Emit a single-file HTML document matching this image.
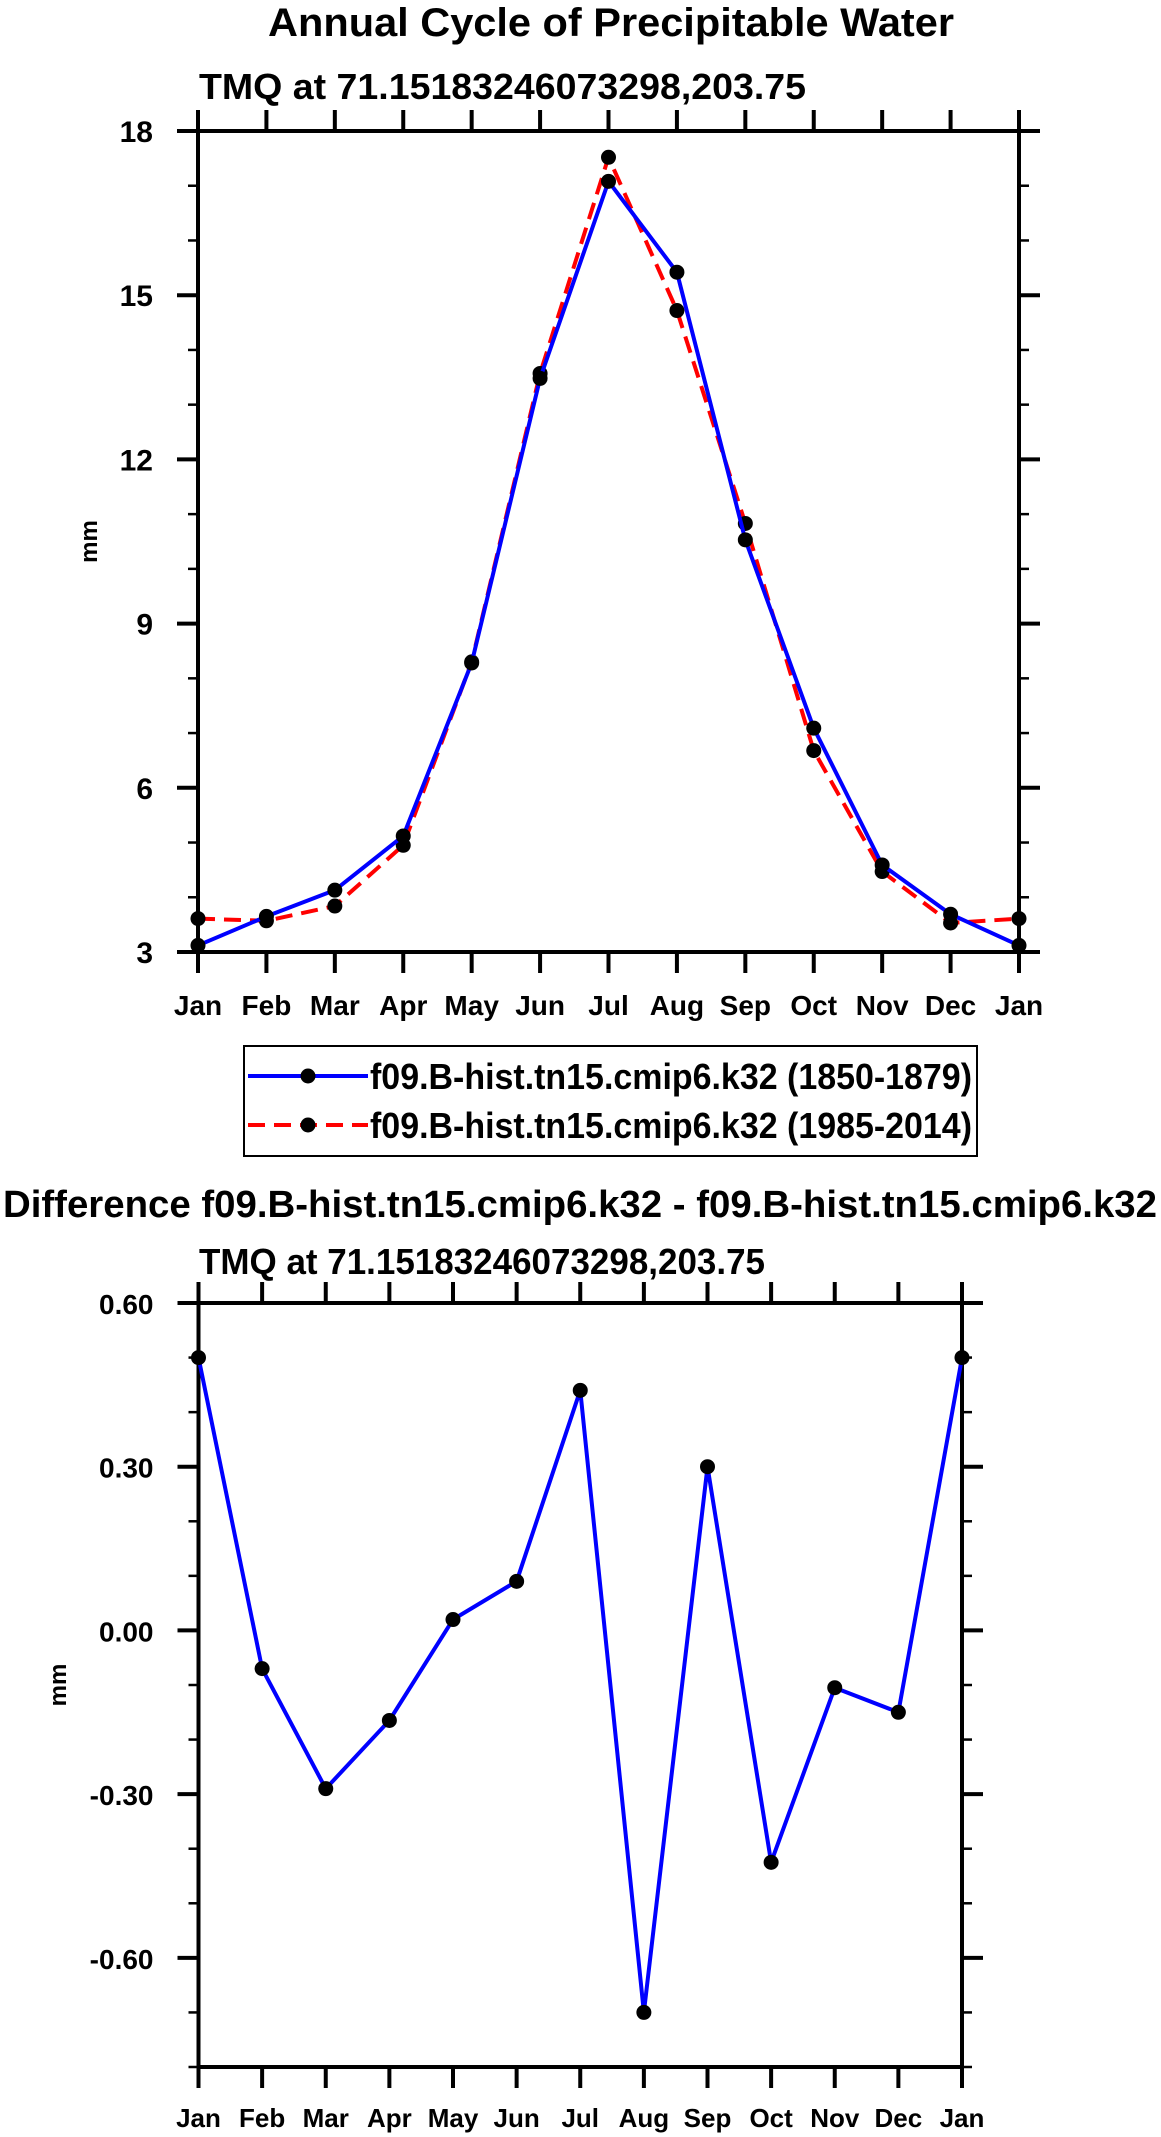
<!DOCTYPE html>
<html><head><meta charset="utf-8"><style>
html,body{margin:0;padding:0;background:#fff;}
svg{display:block;font-family:"Liberation Sans",sans-serif;font-weight:bold;}
</style></head><body>
<svg id="c" width="1161" height="2137" viewBox="0 0 1161 2137" xmlns="http://www.w3.org/2000/svg">
<text x="611" y="36" font-size="40" text-anchor="middle" textLength="686" lengthAdjust="spacingAndGlyphs">Annual Cycle of Precipitable Water</text>
<text x="199" y="99" font-size="36" textLength="607" lengthAdjust="spacingAndGlyphs">TMQ at 71.15183246073298,203.75</text>
<text x="580" y="1217" font-size="38" text-anchor="middle" textLength="1154" lengthAdjust="spacingAndGlyphs">Difference f09.B-hist.tn15.cmip6.k32 - f09.B-hist.tn15.cmip6.k32</text>
<text x="199" y="1274" font-size="36" textLength="566" lengthAdjust="spacingAndGlyphs">TMQ at 71.15183246073298,203.75</text>
<g id="p1"></g><g id="p2"></g>
<g>
<rect x="244" y="1046" width="733" height="110" fill="none" stroke="#000" stroke-width="2"/>
<g>
<line x1="248" y1="1076" x2="368" y2="1076" stroke="#0000ff" stroke-width="4"/>
<circle cx="308" cy="1076" r="7.5" fill="#000"/>
<text x="370" y="1089" font-size="36" textLength="602" lengthAdjust="spacingAndGlyphs">f09.B-hist.tn15.cmip6.k32 (1850-1879)</text></g>
<g>
<line x1="248" y1="1125" x2="368" y2="1125" stroke="#ff0000" stroke-width="4" stroke-dasharray="17,9"/>
<circle cx="308" cy="1125" r="7.5" fill="#000"/>
<text x="370" y="1138" font-size="36" textLength="602" lengthAdjust="spacingAndGlyphs">f09.B-hist.tn15.cmip6.k32 (1985-2014)</text></g>
</g>
</svg>
<script>
const months = ["Jan","Feb","Mar","Apr","May","Jun","Jul","Aug","Sep","Oct","Nov","Dec","Jan"];
const early = [3.12,3.65,4.13,5.12,8.28,13.48,17.08,15.42,10.53,7.09,4.59,3.69,3.12];
const late = [3.61,3.57,3.84,4.95,8.30,13.57,17.52,14.72,10.83,6.68,4.47,3.53,3.61];
const diff = [0.50,-0.07,-0.29,-0.165,0.02,0.09,0.44,-0.70,0.30,-0.425,-0.105,-0.15,0.50];
const ticks1 = [3,6,9,12,15,18];
const ticks1Labels = ["3","6","9","12","15","18"];
const ticks2 = [-0.6,-0.3,0,0.3,0.6];
const ticks2Labels = ["-0.60","-0.30","0.00","0.30","0.60"];
const NS="http://www.w3.org/2000/svg";
function mk(parent,tag,attrs){const e=document.createElementNS(NS,tag);for(const k in attrs)e.setAttribute(k,attrs[k]);parent.appendChild(e);return e;}
function panel(g,cfg){
  const {x0,x1,y0,y1,vmin,vmax,ticks,labels,minorStep,tickFont,monthFont,monthBase,ylabelX,name}=cfg;
  const X=i=>x0+(x1-x0)*i/(months.length-1);
  const Y=v=>y1-(y1-y0)*(v-vmin)/(vmax-vmin);
  const ax=mk(g,'g',{});
  
  
  for(let v=vmin;v<=vmax+1e-9;v+=minorStep){const y=Y(v);
    mk(ax,'line',{x1:x0-10,y1:y,x2:x0,y2:y,stroke:'#000','stroke-width':2.5});
    mk(ax,'line',{x1:x1,y1:y,x2:x1+10,y2:y,stroke:'#000','stroke-width':2.5});}
  ticks.forEach((v,i)=>{const y=Y(v);
    mk(ax,'line',{x1:x0-21,y1:y,x2:x0,y2:y,stroke:'#000','stroke-width':4});
    mk(ax,'line',{x1:x1,y1:y,x2:x1+21,y2:y,stroke:'#000','stroke-width':4});
    const t=mk(ax,'text',{x:x0-45,y:y+11,'font-size':tickFont,'text-anchor':'end'});
    
    
    t.textContent=labels[i];});
  months.forEach((m,i)=>{const x=X(i);
    mk(ax,'line',{x1:x,y1:y1,x2:x,y2:y1+21,stroke:'#000','stroke-width':4});
    mk(ax,'line',{x1:x,y1:y0,x2:x,y2:y0-21,stroke:'#000','stroke-width':4});
    const t=mk(ax,'text',{x:x,y:monthBase,'font-size':monthFont,'text-anchor':'middle'});
    
    
    t.textContent=m;});
  mk(ax,'rect',{x:x0,y:y0,width:x1-x0,height:y1-y0,fill:'none',stroke:'#000','stroke-width':4});
  const yl=mk(ax,'text',{x:ylabelX,y:(y0+y1)/2,'font-size':24,'text-anchor':'middle',transform:`rotate(-90 ${ylabelX} ${(y0+y1)/2})`});
  
  
  yl.textContent='mm';
  return {X,Y};
}
function series(g,vals,X,Y,color,dash,name){
  const s=mk(g,'g',{});
  
  
  const p=mk(s,'polyline',{points:vals.map((v,i)=>X(i)+','+Y(v)).join(' '),fill:'none',stroke:color,'stroke-width':4,'stroke-linejoin':'round'});
  if(dash)p.setAttribute('stroke-dasharray',dash);
  vals.forEach((v,i)=>{const c=mk(s,'circle',{cx:X(i),cy:Y(v),r:7.5,fill:'#000'});
    
    });
}
const g1=document.getElementById('p1');


const a=panel(g1,{x0:198,x1:1019,y0:131,y1:952,vmin:3,vmax:18,ticks:ticks1,labels:ticks1Labels,minorStep:1,tickFont:30,monthFont:28,monthBase:1015,ylabelX:97,name:'top'});
series(g1,late,a.X,a.Y,'#ff0000','17,9','series-1985-2014');
series(g1,early,a.X,a.Y,'#0000ff',null,'series-1850-1879');
const g2=document.getElementById('p2');


const b=panel(g2,{x0:198.5,x1:962,y0:1303,y1:2067,vmin:-0.8,vmax:0.6,ticks:ticks2,labels:ticks2Labels,minorStep:0.1,tickFont:28,monthFont:26,monthBase:2127,ylabelX:66,name:'diff'});
series(g2,diff,b.X,b.Y,'#0000ff',null,'series-difference');
</script>
</body></html>
